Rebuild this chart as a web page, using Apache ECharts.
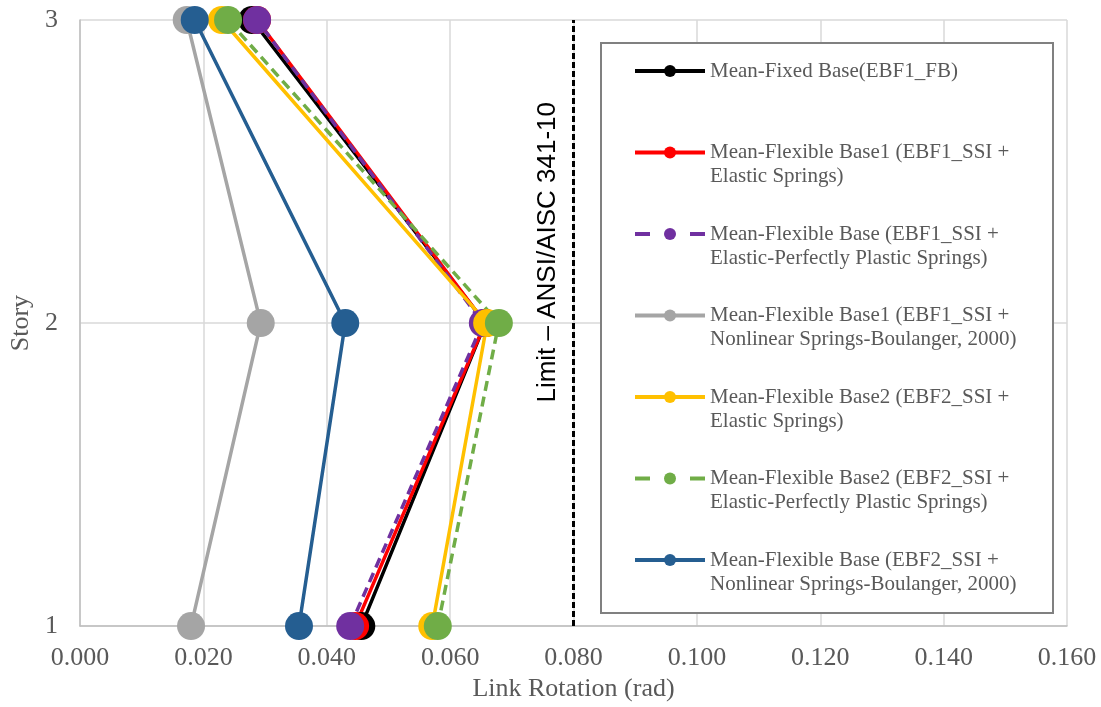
<!DOCTYPE html>
<html>
<head>
<meta charset="utf-8">
<title>Link Rotation</title>
<script src="https://cdn.jsdelivr.net/npm/echarts@6/dist/echarts.min.js"></script>
<style>
    html, body { margin: 0; padding: 0; background: #fff; }
    #main { width: 1101px; height: 707px; }
</style>
</head>
<body>
<div id="main"></div>
<script>
// stories (y)
var stories = [1, 2, 3];

// link rotation (rad) per story 1..3
var fixedBase = [0.0456, 0.0657, 0.0279];
var flex1Elastic = [0.0446, 0.0657, 0.0287];
var flex1EPP = [0.0438, 0.0653, 0.0287];
var flex1Nonlin = [0.0180, 0.0293, 0.0173];
var flex2Elastic = [0.0571, 0.0660, 0.0230];
var flex2EPP = [0.0580, 0.0679, 0.0240];
var flex2Nonlin = [0.0355, 0.0430, 0.0186];

var names = [
    'Mean-Fixed Base(EBF1_FB)',
    'Mean-Flexible Base1 (EBF1_SSI +\nElastic Springs)',
    'Mean-Flexible Base (EBF1_SSI +\nElastic-Perfectly Plastic Springs)',
    'Mean-Flexible Base1 (EBF1_SSI +\nNonlinear Springs-Boulanger, 2000)',
    'Mean-Flexible Base2 (EBF2_SSI +\nElastic Springs)',
    'Mean-Flexible Base2 (EBF2_SSI +\nElastic-Perfectly Plastic Springs)',
    'Mean-Flexible Base (EBF2_SSI +\nNonlinear Springs-Boulanger, 2000)'
];
var colors = ['#000000', '#ff0000', '#7030a0', '#a5a5a5', '#ffc000', '#70ad47', '#255e91'];
var dashed = [false, false, true, false, false, true, false];
var values = [fixedBase, flex1Elastic, flex1EPP, flex1Nonlin, flex2Elastic, flex2EPP, flex2Nonlin];

var limitValue = 0.08;
var limitText = 'Limit – ANSI/AISC 341-10';

var xTicks = {min: 0, max: 0.16, interval: 0.02};

function pairs(xs) {
    var out = [];
    for (var i = 0; i < xs.length; i++) {
        out.push([xs[i], stories[i]]);
    }
    return out
}

var serif = 'Liberation Serif';
var grey = '#595959';

var series = [];
for (var i = 0; i < names.length; i++) {
    var s = {
        name: names[i],
        type: 'line',
        data: pairs(values[i]),
        symbol: 'circle',
        symbolSize: 28,
        showAllSymbol: true,
        itemStyle: {color: colors[i]},
        lineStyle: {color: colors[i], width: 3.5, type: dashed[i] ? [10, 6] : 'solid'},
        emphasis: {disabled: true}
    };
    if (i == 0) {
        s.markLine = {
            silent: true,
            symbol: 'none',
            lineStyle: {color: '#000', width: 3, type: [6, 3]},
            label: {
                show: true,
                position: 'insideEndTop',
                distance: [82, 13],
                formatter: limitText,
                color: '#000',
                fontFamily: 'Liberation Sans',
                fontSize: 26
            },
            data: [[{coord: [limitValue, stories[0]]}, {coord: [limitValue, stories[stories.length - 1]]}]]
        };
    }
    series.push(s);
}

var legendData = [];
for (var i = 0; i < names.length; i++) {
    var d = {name: names[i]};
    if (dashed[i]) {
        d.lineStyle = {type: [15, 40]};
    }
    legendData.push(d);
}

var myChart = echarts.init(document.getElementById('main'));

var option = {
    animation: false,
    backgroundColor: '#fff',
    grid: {left: 80, right: 34, top: 20, bottom: 79},
    graphic: [{
        type: 'rect',
        left: 600,
        top: 42,
        z: 3,
        shape: {width: 452, height: 570},
        style: {fill: '#fff', stroke: '#808080', lineWidth: 2}
    }],
    legend: {
        orient: 'vertical',
        left: 633,
        top: 35,
        padding: 0,
        itemGap: 9.5,
        itemWidth: 70,
        itemHeight: 15,
        selectedMode: false,
        data: legendData,
        lineStyle: {width: 4},
        formatter: function (name) {
            // pad so the icon sits on the first text line
            return name.indexOf('\n') < 0 ? '\n' + name + '\n' : '\n' + name;
        },
        textStyle: {fontFamily: serif, fontSize: 21, lineHeight: 24, color: grey}
    },
    xAxis: {
        type: 'value',
        min: xTicks.min,
        max: xTicks.max,
        interval: xTicks.interval,
        name: 'Link Rotation (rad)',
        nameLocation: 'middle',
        nameGap: 49,
        nameTextStyle: {fontFamily: serif, fontSize: 26, color: grey},
        axisLine: {show: true, lineStyle: {color: '#bfbfbf', width: 1.5}},
        axisTick: {show: false},
        axisLabel: {
            margin: 19,
            fontFamily: serif,
            fontSize: 26,
            color: grey,
            formatter: function (v) { return v.toFixed(3) }
        },
        splitLine: {show: true, lineStyle: {color: '#d9d9d9', width: 1.5}}
    },
    yAxis: {
        type: 'value',
        min: 1,
        max: 3,
        interval: 1,
        name: 'Story',
        nameLocation: 'middle',
        nameGap: 38,
        nameTextStyle: {fontFamily: serif, fontSize: 26, color: grey},
        axisLine: {show: true, lineStyle: {color: '#bfbfbf', width: 1.5}},
        axisTick: {show: false},
        axisLabel: {margin: 22, fontFamily: serif, fontSize: 26, color: grey},
        splitLine: {show: true, lineStyle: {color: '#d9d9d9', width: 1.5}}
    },
    series: series
};

myChart.setOption(option);
</script>
</body>
</html>
